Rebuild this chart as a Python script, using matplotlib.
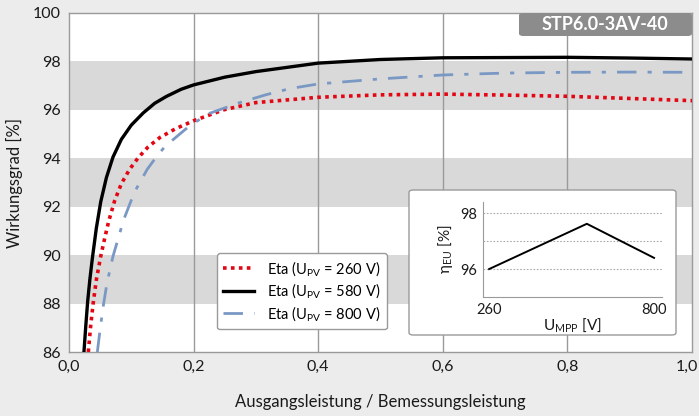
import numpy as np
import matplotlib
matplotlib.use("Agg")
import matplotlib.pyplot as plt
import matplotlib.transforms as mtransforms
from matplotlib.patches import FancyBboxPatch
from matplotlib.ticker import FuncFormatter

plt.rcParams['font.family'] = ['Lato', 'DejaVu Sans']
plt.rcParams['mathtext.default'] = 'regular'

# Wirkungsgradkurven
p_580 = [0.024, 0.027, 0.030, 0.0335, 0.0374, 0.0438, 0.0509, 0.060, 0.0706, 0.084, 0.100,
         0.119, 0.1375, 0.156, 0.18, 0.2, 0.25, 0.3, 0.4, 0.5, 0.6, 0.7, 0.8, 0.9, 1.0]
eta_580 = [86.0, 87.1, 88.1, 89.0, 89.85, 91.1, 92.2, 93.2, 94.05, 94.78, 95.37,
           95.87, 96.27, 96.55, 96.85, 97.03, 97.35, 97.58, 97.93, 98.08, 98.15, 98.16, 98.17, 98.14, 98.1]

p_260 = [0.031, 0.035, 0.039, 0.044, 0.0509, 0.0573, 0.0637, 0.0733, 0.084, 0.0974, 0.111,
         0.127, 0.146, 0.171, 0.2, 0.248, 0.3, 0.4, 0.5, 0.6, 0.7, 0.8, 0.9, 1.0]
eta_260 = [86.0, 87.15, 88.05, 89.0, 89.95, 90.7, 91.4, 92.25, 92.95, 93.55, 94.02,
           94.47, 94.86, 95.22, 95.55, 96.0, 96.3, 96.52, 96.62, 96.65, 96.61, 96.56, 96.47, 96.38]

p_800 = [0.0455, 0.050, 0.055, 0.061, 0.0706, 0.0876, 0.105, 0.1257, 0.1429, 0.1546, 0.187,
         0.2, 0.226, 0.274, 0.317, 0.355, 0.4, 0.5, 0.6, 0.7, 0.8, 0.9, 1.0]
eta_800 = [86.0, 86.95, 87.9, 88.85, 89.95, 91.45, 92.6, 93.55, 94.15, 94.5, 95.2,
           95.45, 95.86, 96.3, 96.63, 96.88, 97.07, 97.28, 97.44, 97.52, 97.55, 97.56, 97.55]

# Europaeischer Wirkungsgrad ueber U_MPP
u_mpp = [260, 580, 800]
eta_eu = [96.0, 97.62, 96.4]

bands = [(88, 90), (92, 94), (96, 98)]
x_ticks = [0.0, 0.2, 0.4, 0.6, 0.8, 1.0]
y_ticks = [86, 88, 90, 92, 94, 96, 98, 100]

bg = '#ececec'
grey = '#9a9a9a'

fig = plt.figure(figsize=(6.99, 4.16), dpi=100, facecolor=bg)
ax = fig.add_axes([69/699, 1-352/416, 623/699, 339/416])
ax.set_facecolor('white')

for lo, hi in bands:
    ax.axhspan(lo, hi, color='#d9d9d9', lw=0, zorder=0)
for xv in x_ticks[1:-1]:
    ax.axvline(xv, color=grey, lw=1, zorder=1)

ax.plot(p_260, eta_260, color='#e30613', ls=(0, (1, 1.2)), lw=2.6, label='Eta (U$_{PV}$ = 260 V)', zorder=3)
ax.plot(p_580, eta_580, color='black', lw=2.4, label='Eta (U$_{PV}$ = 580 V)', zorder=4)
ax.plot(p_800, eta_800, color='#7a98c4', ls=(0, (7, 4, 1.5, 4)), lw=2.0, label='Eta (U$_{PV}$ = 800 V)', zorder=3)

ax.set_xlim(0, 1.0)
ax.set_ylim(86, 100)
ax.set_xticks(x_ticks)
ax.set_yticks(y_ticks)
ax.xaxis.set_major_formatter(FuncFormatter(lambda v, _: f"{v:.1f}".replace('.', ',')))
ax.tick_params(length=0, labelsize=11.5, pad=6, colors='#1a1a1a')
for s in ax.spines.values():
    s.set_color(grey)
    s.set_linewidth(1)

# letzte x-Beschriftung etwas nach links, damit sie nicht abgeschnitten wird
last = ax.get_xticklabels()[-1]
last.set_transform(last.get_transform() + mtransforms.ScaledTranslation(-5/100, 0, fig.dpi_scale_trans))

ax.set_xlabel('Ausgangsleistung / Bemessungsleistung', fontsize=12, labelpad=14, color='#1a1a1a')
ax.set_ylabel('Wirkungsgrad [%]', fontsize=12, labelpad=7, color='#1a1a1a')

leg = ax.legend(loc='lower right', bbox_to_anchor=(0.522, 0.045), fontsize=10.5, frameon=True,
                fancybox=True, edgecolor=grey, framealpha=1, handlelength=2.1, borderpad=0.45,
                labelspacing=0.25, handletextpad=0.9)
leg.get_frame().set_linewidth(1)

# Typenbezeichnung oben rechts
fig.patches.append(FancyBboxPatch((519/699, 1-36/416), 173/699, 23/416, boxstyle='round,pad=0,rounding_size=0.006',
                                  transform=fig.transFigure, facecolor='#8c8c8c', edgecolor='none', zorder=5))
fig.text(605/699, 1-25/416, 'STP6.0-3AV-40', color='white', fontsize=13, fontweight='bold',
         ha='center', va='center', zorder=6)

# Inset-Kasten
fig.patches.append(FancyBboxPatch((409/699, 1-335/416), 267/699, 145/416, boxstyle='round,pad=0,rounding_size=0.006',
                                  transform=fig.transFigure, facecolor='white', edgecolor=grey, lw=1, zorder=5))
ins = fig.add_axes([483/699, 1-297/416, 179/699, 95/416], zorder=6)
ins.set_facecolor('none')
for yv in [96, 97, 98]:
    ins.axhline(yv, color='#aaaaaa', lw=0.8, ls=(0, (1.5, 1.5)), zorder=1)
ins.plot(u_mpp, eta_eu, color='black', lw=1.4, zorder=3)
ins.set_xlim(240, 826)
ins.set_ylim(95.0, 98.4)
ins.set_xticks([260, 800])
ins.set_yticks([96, 98])
ins.tick_params(length=0, labelsize=10.5, pad=4, colors='#1a1a1a')
ins.spines['top'].set_visible(False)
ins.spines['right'].set_visible(False)
ins.spines['left'].set_color(grey)
ins.spines['bottom'].set_color(grey)
ins.set_xlabel('U$_{MPP}$ [V]', fontsize=11, labelpad=0, color='#1a1a1a')
ins.set_ylabel('η$_{EU}$ [%]', fontsize=11, labelpad=4, color='#1a1a1a')

fig.savefig('out.png', dpi=100, facecolor=bg)
